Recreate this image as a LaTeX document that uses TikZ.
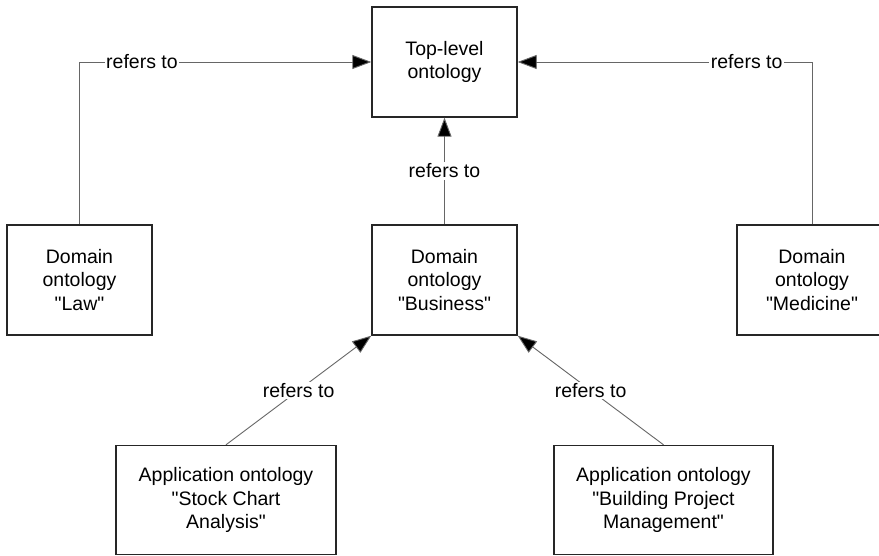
\documentclass[tikz,border=0pt]{standalone}
\usepackage{fontspec}
\setmainfont{Liberation Sans}[Ligatures=TeXOff]
\usetikzlibrary{arrows.meta}
\begin{document}
\begin{tikzpicture}[x=1pt,y=-1pt,
  box/.style={draw=black!85, line width=1.4pt, fill=white, inner sep=0pt, align=center,
    font=\fontsize{19.5}{23.5}\selectfont},
  conn/.style={draw=black!60, line width=0.9pt, -{Triangle[length=19pt,width=14pt,fill=black]}},
  lbl/.style={fill=white, inner sep=1.5pt, font=\fontsize{19.5}{23.5}\selectfont, text=black}]
\useasboundingbox (0,0) rectangle (879,556);
\clip (0,0) rectangle (879,556);
\fill[white] (0,0) rectangle (879,556);
\node[box, minimum width=145pt, minimum height=110pt] (top) at (444.5,62) {Top-level\\ontology};
\node[box, minimum width=145pt, minimum height=110pt] (law) at (79.5,280) {Domain\\ontology\\"Law"};
\node[box, minimum width=145pt, minimum height=110pt] (bus) at (444.5,280) {Domain\\ontology\\"Business"};
\node[box, minimum width=150pt, minimum height=110pt] (med) at (812,280) {Domain\\ontology\\"Medicine"};
\node[box, minimum width=220pt, minimum height=109pt] (stock) at (226,500) {Application ontology\\"Stock Chart\\Analysis"};
\node[box, minimum width=219pt, minimum height=109pt] (build) at (663.5,500) {Application ontology\\"Building Project\\Management"};
\draw[conn] (law.north) |- (top.west) node[lbl, pos=0.607] {refers to};
\draw[conn] (med.north) |- (top.east) node[lbl, pos=0.611] {refers to};
\draw[conn] (bus.north) -- (top.south) node[lbl, midway] {refers to};
\draw[conn] (stock.north) -- (bus.south west) node[lbl, midway] {refers to};
\draw[conn] (build.north) -- (bus.south east) node[lbl, midway] {refers to};
\end{tikzpicture}
\end{document}
